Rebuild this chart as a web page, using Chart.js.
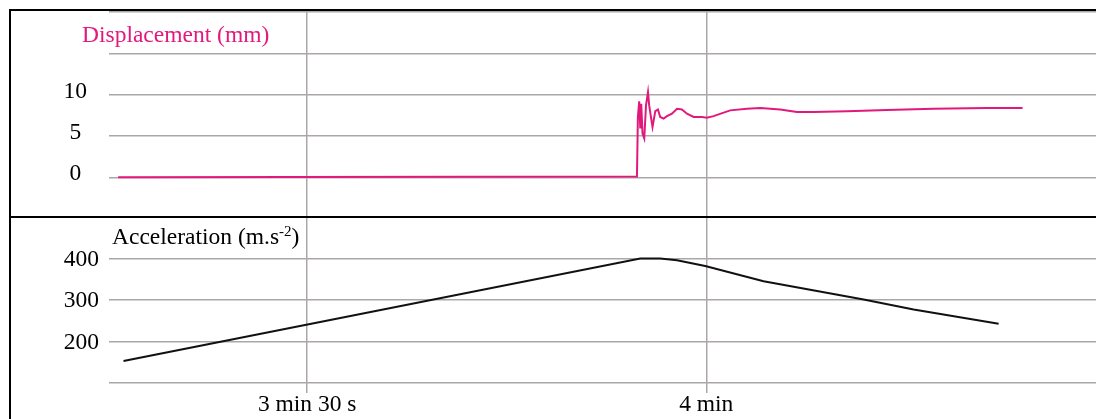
<!DOCTYPE html>
<html>
<head>
<meta charset="utf-8">
<script src="https://cdn.jsdelivr.net/npm/chart.js@4.4.1/dist/chart.umd.min.js"></script>
<style>
  html, body { margin: 0; padding: 0; background: #fff; }
  canvas { display: block; }
</style>
</head>
<body>
<canvas id="chart" width="1096" height="419"></canvas>
<script>
// time in seconds
const dispTime = [195.79, 234.79, 234.86, 234.96, 235.04, 235.11, 235.21, 235.34, 235.47, 235.62, 235.71,
  235.86, 235.96, 236.17, 236.37, 236.54, 236.79, 237.05, 237.42, 237.80, 238.17, 238.55, 239.05,
  239.68, 240.05, 240.55, 241.80, 243.06, 244.06, 245.56, 246.82, 248.07, 250.58, 253.59, 257.09,
  261.11, 263.78];
const dispValue = [0, 0.1, 7.3, 9.2, 5.9, 8.9, 5.3, 4.7, 8.7, 10.3, 8.7,
  7.1, 6.1, 8.0, 8.2, 7.3, 7.1, 7.4, 7.7, 8.3, 8.2, 7.7, 7.3,
  7.3, 7.2, 7.4, 8.1, 8.3, 8.4, 8.2, 7.9, 7.9, 8.0, 8.15, 8.3,
  8.4, 8.4];

const accTime = [196.19, 235.04, 236.54, 237.80, 239.92, 244.31, 251.83, 255.59, 261.98];
const accValue = [153, 400, 400, 396, 382, 345, 301, 277, 243];

const dispTicks = [0, 5, 10];
const accTicks = [200, 300, 400];
const timeTicks = [210, 240];
const timeLabels = ['3 min 30 s', '4 min'];

const PINK = '#e2197c';
const GRID = '#aba7a9';
const FONT = "'Liberation Serif', 'Times New Roman', serif";
const SIZE = 23.5;

// frame + separator between the two panels
const framePlugin = {
  id: 'frame',
  afterDraw(chart) {
    const ctx = chart.ctx;
    const sep = chart.scales.yDisp.bottom;
    ctx.save();
    ctx.strokeStyle = '#000';
    ctx.lineWidth = 2;
    ctx.beginPath();
    ctx.moveTo(10, chart.height);
    ctx.lineTo(10, 10);
    ctx.lineTo(chart.width, 10);
    ctx.moveTo(10, sep);
    ctx.lineTo(chart.width, sep);
    ctx.stroke();
    ctx.restore();
  }
};

// panel titles
const titlePlugin = {
  id: 'titles',
  afterDraw(chart) {
    const ctx = chart.ctx;
    ctx.save();
    ctx.textBaseline = 'alphabetic';
    ctx.textAlign = 'left';
    ctx.font = SIZE + 'px ' + FONT;
    ctx.fillStyle = PINK;
    ctx.fillText('Displacement (mm)', 82, 42);

    ctx.fillStyle = '#000';
    let x = 112;
    const base = 244;
    const a = 'Acceleration (m.s';
    ctx.fillText(a, x, base);
    x += ctx.measureText(a).width;
    ctx.font = '15px ' + FONT;
    ctx.fillText('-2', x, base - 8);
    x += ctx.measureText('-2').width;
    ctx.font = SIZE + 'px ' + FONT;
    ctx.fillText(')', x, base);
    ctx.restore();
  }
};

function fixY(s) {
  s.width = 100;
  s.paddingTop = 0;
  s.paddingBottom = 0;
}

const ctx = document.getElementById('chart').getContext('2d');
new Chart(ctx, {
  type: 'line',
  data: {
    datasets: [
      {
        label: 'Displacement',
        data: dispTime.map((t, i) => ({ x: t, y: dispValue[i] })),
        yAxisID: 'yDisp',
        borderColor: PINK,
        borderWidth: 2,
        pointRadius: 0,
        tension: 0,
      },
      {
        label: 'Acceleration',
        data: accTime.map((t, i) => ({ x: t, y: accValue[i] })),
        yAxisID: 'yAcc',
        borderColor: '#111',
        borderWidth: 2,
        pointRadius: 0,
        tension: 0,
      }
    ]
  },
  options: {
    responsive: false,
    animation: false,
    layout: { padding: { left: 9, top: 12, right: 0, bottom: 0 } },
    plugins: {
      legend: { display: false },
      tooltip: { enabled: false },
    },
    scales: {
      x: {
        type: 'linear',
        min: 195.1,
        max: 269.3,
        afterBuildTicks: (s) => { s.ticks = timeTicks.map(v => ({ value: v })); },
        afterFit: (s) => { s.height = 36; s.paddingLeft = 0; s.paddingRight = 0; },
        ticks: {
          callback: (v, i) => timeLabels[i],
          font: { family: FONT, size: SIZE },
          color: '#000',
          maxRotation: 0,
          autoSkip: false,
          padding: -2,
        },
        grid: { color: GRID, lineWidth: 1.5, tickLength: 10, tickColor: GRID },
        border: { display: false },
      },
      yAcc: {
        type: 'linear',
        position: 'left',
        stack: 'panels',
        stackWeight: 166,
        min: 100,
        max: 500,
        afterFit: fixY,
        ticks: {
          stepSize: 100,
          autoSkip: false,
          callback: (v) => accTicks.includes(v) ? String(v) : '',
          font: { family: FONT, size: SIZE },
          color: '#000',
          padding: 10,
          labelOffset: 1,
        },
        grid: { color: GRID, lineWidth: 1.5, drawTicks: false },
        border: { display: false },
      },
      yDisp: {
        type: 'linear',
        position: 'left',
        stack: 'panels',
        stackWeight: 205,
        min: -4.8,
        max: 20,
        afterFit: fixY,
        ticks: {
          stepSize: 5,
          autoSkip: false,
          includeBounds: false,
          callback: (v) => dispTicks.includes(v) ? String(v) : '',
          font: { family: FONT, size: SIZE },
          color: '#000',
          crossAlign: 'center',
          padding: 22,
          labelOffset: -3,
        },
        grid: { color: GRID, lineWidth: 1.5, drawTicks: false },
        border: { display: false },
      },
    }
  },
  plugins: [framePlugin, titlePlugin]
});
</script>
</body>
</html>
